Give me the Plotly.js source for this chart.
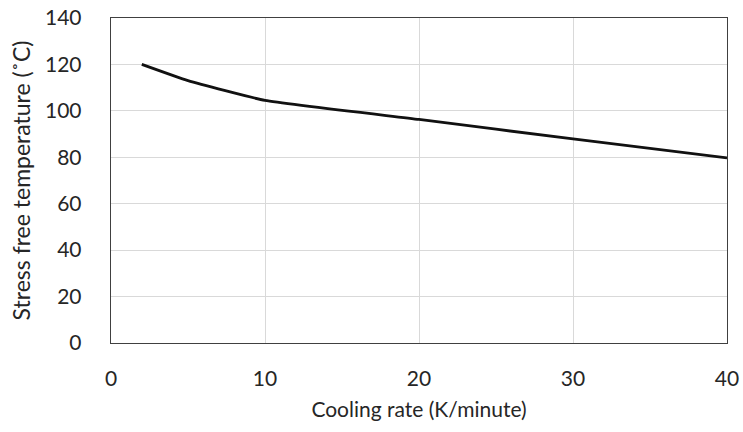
<!DOCTYPE html>
<html>
<head>
<meta charset="utf-8">
<script src="https://cdn.plot.ly/plotly-3.0.1.min.js"></script>
<style>
  html, body { margin: 0; padding: 0; background: #fff; }
  #chart { width: 743px; height: 432px; }
</style>
</head>
<body>
<div id="chart"></div>
<script>
// Cooling rate (K/minute) and the resulting stress free temperature (°C)
const coolingRate = [2, 5, 10, 20, 30, 40];
const stressFreeTemp = [120, 113, 104.5, 96.3, 87.9, 79.7];

const xTicks = [0, 10, 20, 30, 40];
const yTicks = [0, 20, 40, 60, 80, 100, 120, 140];

const textFont = { family: 'Lato, Open Sans, sans-serif', size: 21, color: '#262626' };
const yTitleFont = { family: 'Lato, Open Sans, sans-serif', size: 23, color: '#262626' };

const trace = {
  x: coolingRate,
  y: stressFreeTemp,
  type: 'scatter',
  mode: 'lines',
  line: { color: '#111111', width: 2.8, shape: 'spline', smoothing: 0.4 },
  hoverinfo: 'x+y'
};

const layout = {
  width: 743,
  height: 432,
  margin: { l: 111, r: 16, t: 18, b: 89 },
  paper_bgcolor: '#ffffff',
  plot_bgcolor: '#ffffff',
  showlegend: false,
  font: textFont,
  xaxis: {
    range: [0, 40],
    tickvals: xTicks,
    ticktext: xTicks.map(String),
    showgrid: true,
    gridcolor: '#d9d9d9',
    gridwidth: 1,
    zeroline: false,
    showline: true,
    linecolor: '#404040',
    linewidth: 1.3,
    mirror: true,
    ticks: '',
    ticklabelstandoff: 16,
    tickfont: textFont,
    title: { text: 'Cooling rate (K/minute)', font: textFont, standoff: 13 }
  },
  yaxis: {
    range: [0, 140],
    tickvals: yTicks,
    ticktext: yTicks.map(String),
    showgrid: true,
    gridcolor: '#d9d9d9',
    gridwidth: 1,
    zeroline: false,
    showline: true,
    linecolor: '#404040',
    linewidth: 1.3,
    mirror: true,
    ticks: '',
    ticklabelstandoff: 24,
    tickfont: textFont,
    title: { text: 'Stress free temperature (˚C)', font: yTitleFont, standoff: 8 }
  }
};

Plotly.newPlot('chart', [trace], layout, { staticPlot: true, displayModeBar: false });
</script>
</body>
</html>
